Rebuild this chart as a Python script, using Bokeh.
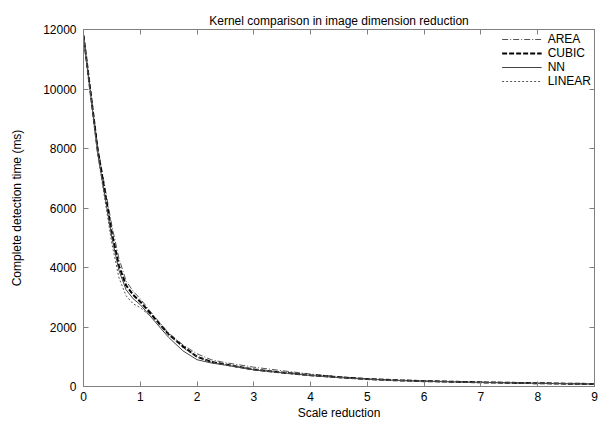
from bokeh.plotting import figure
from bokeh.models import LinearAxis, Range1d, Legend, LegendItem, FixedTicker
from bokeh.embed import file_html
from bokeh.resources import INLINE

scale = [0, 0.25, 0.5, 0.625, 0.75, 0.875, 1, 1.25, 1.5, 1.75, 2, 2.25, 2.5, 3, 3.5, 4, 4.5, 5, 5.5, 6, 6.5, 7, 7.5, 8, 8.5, 9]
area = [11800, 8050, 5400, 4300, 3550, 3200, 2950, 2350, 1800, 1400, 1100, 900, 800, 650, 530, 420, 330, 260, 215, 185, 165, 145, 128, 112, 98, 88]
cubic = [11800, 7950, 5150, 4050, 3400, 3080, 2850, 2300, 1750, 1350, 1000, 830, 740, 570, 470, 380, 310, 250, 210, 180, 160, 140, 125, 110, 95, 85]
nn = [11800, 7850, 5000, 3900, 3250, 2950, 2750, 2200, 1650, 1200, 900, 790, 720, 560, 460, 370, 300, 245, 205, 175, 155, 138, 122, 108, 95, 82]
linear = [11800, 7800, 4800, 3650, 3050, 2780, 2650, 2250, 1750, 1300, 1000, 820, 740, 590, 480, 390, 310, 250, 210, 180, 158, 140, 124, 110, 96, 84]

x_ticks = [0, 1, 2, 3, 4, 5, 6, 7, 8, 9]
y_ticks = [0, 2000, 4000, 6000, 8000, 10000, 12000]

FONT = "Liberation Sans"
GRAY = "#808080"

p = figure(width=609, height=424, output_backend="svg", toolbar_location=None,
           x_range=Range1d(0, 9), y_range=Range1d(0, 12000),
           min_border_left=83, min_border_right=15, min_border_top=29, min_border_bottom=38,
           x_axis_label="Scale reduction", y_axis_label="Complete detection time (ms)")
p.title.text = "Kernel comparison in image dimension reduction"
p.title.align = "center"
p.title.text_font = FONT
p.title.text_font_size = "12px"
p.title.text_font_style = "normal"
p.title.text_color = "black"
p.title.standoff = 4
p.xgrid.visible = False
p.ygrid.visible = False
p.outline_line_color = GRAY
p.background_fill_color = "white"
p.border_fill_color = "white"

for ax in [p.xaxis[0], p.yaxis[0]]:
    ax.axis_line_color = GRAY
    ax.major_tick_line_color = GRAY
    ax.major_tick_in = 5
    ax.major_tick_out = 0
    ax.minor_tick_line_color = None
    ax.major_label_text_font = FONT
    ax.major_label_text_font_size = "12px"
    ax.major_label_text_color = "black"
    ax.axis_label_text_font = FONT
    ax.axis_label_text_font_size = "12px"
    ax.axis_label_text_font_style = "normal"
    ax.axis_label_text_color = "black"
p.xaxis[0].ticker = FixedTicker(ticks=x_ticks)
p.yaxis[0].ticker = FixedTicker(ticks=y_ticks)
p.xaxis[0].major_label_standoff = 5
p.xaxis[0].axis_label_standoff = 2
p.yaxis[0].major_label_standoff = 7
p.yaxis[0].axis_label_standoff = 16

top = LinearAxis(ticker=FixedTicker(ticks=x_ticks),
                 major_label_overrides={t: "" for t in x_ticks})
right = LinearAxis(ticker=FixedTicker(ticks=y_ticks),
                   major_label_overrides={t: "" for t in y_ticks})
for ax in [top, right]:
    ax.axis_line_color = GRAY
    ax.major_tick_line_color = GRAY
    ax.major_tick_in = 5
    ax.major_tick_out = 0
    ax.minor_tick_line_color = None
    ax.major_label_standoff = 0
p.add_layout(top, "above")
p.add_layout(right, "right")

r_area = p.line(scale, area, line_color="#555555", line_width=1, line_dash="6 2 1 2")
r_cubic = p.line(scale, cubic, line_color="black", line_width=2, line_dash="5 2")
r_nn = p.line(scale, nn, line_color="#444444", line_width=1)
r_linear = p.line(scale, linear, line_color="#555555", line_width=1, line_dash="2 2")

legend = Legend(items=[LegendItem(label="AREA", renderers=[r_area]),
                       LegendItem(label="CUBIC", renderers=[r_cubic]),
                       LegendItem(label="NN", renderers=[r_nn]),
                       LegendItem(label="LINEAR", renderers=[r_linear])],
                location="top_right", border_line_color=None, background_fill_alpha=0,
                label_text_font=FONT, label_text_font_size="12px", label_text_color="black",
                glyph_width=40, glyph_height=10, label_height=10, spacing=0,
                padding=0, margin=3, label_standoff=6)
p.add_layout(legend)

open("out.html", "w").write(file_html(p, INLINE))
